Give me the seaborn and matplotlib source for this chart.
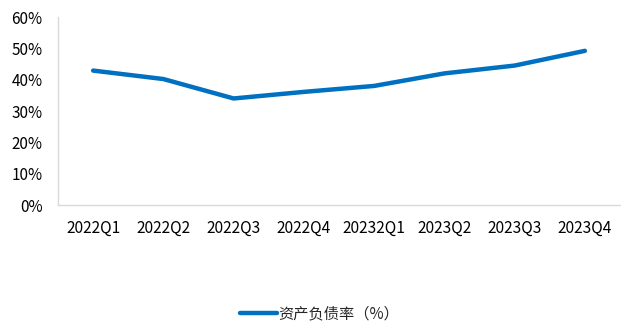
import matplotlib
matplotlib.use("Agg")
import matplotlib.pyplot as plt
import seaborn as sns
import pandas as pd
import numpy as np
from matplotlib.ticker import FixedLocator, PercentFormatter

quarters = ["2022Q1", "2022Q2", "2022Q3", "2022Q4", "20232Q1", "2023Q2", "2023Q3", "2023Q4"]
debt_ratio = [42.9, 40.2, 34.0, 36.1, 38.0, 42.0, 44.5, 49.2]
series_name = "资产负债率（%）"
y_ticks = [0, 10, 20, 30, 40, 50, 60]

sns.set_theme(style="white")
plt.rcParams["font.family"] = ["Noto Sans CJK SC", "DejaVu Sans"]

df = pd.DataFrame({"quarter": quarters, "value": debt_ratio, "series": series_name})

fig = plt.figure(figsize=(6.21, 3.22), dpi=100)
ax = fig.add_axes([58 / 621, 1 - 205 / 322, (620 - 58) / 621, (205 - 17) / 322])

sns.lineplot(data=df, x="quarter", y="value", hue="series", palette=["#0070C0"],
             linewidth=3.2, sort=False, ax=ax)

axis_grey = "#D9D9D9"
ax.set_xlim(-0.5, len(quarters) - 0.5)
ax.set_ylim(0, 60)
ax.set_yticks(y_ticks)
ax.yaxis.set_major_formatter(PercentFormatter(decimals=0))
ax.set_xticks(range(len(quarters)))
ax.set_xticklabels(quarters)
ax.xaxis.set_minor_locator(FixedLocator(np.arange(-0.5, len(quarters), 1.0)))
ax.tick_params(axis="x", which="major", length=0, pad=10.5, labelsize=11.2, colors="#000000")
ax.tick_params(axis="x", which="minor", length=5, width=1, color=axis_grey)
ax.tick_params(axis="y", which="major", length=5, width=1, color=axis_grey,
               labelsize=11, labelcolor="#000000", pad=6)
for s in ("top", "right"):
    ax.spines[s].set_visible(False)
for s in ("left", "bottom"):
    ax.spines[s].set_color(axis_grey)
    ax.spines[s].set_linewidth(1)
ax.set_xlabel("")
ax.set_ylabel("")

handles, labels = ax.get_legend_handles_labels()
ax.legend_.remove()
fig.legend(handles, labels, loc="center", bbox_to_anchor=(320 / 621, 1 - 314 / 322),
           frameon=False, fontsize=11, handlelength=2.4, handletextpad=0.1)

fig.savefig("out.png", dpi=100)
